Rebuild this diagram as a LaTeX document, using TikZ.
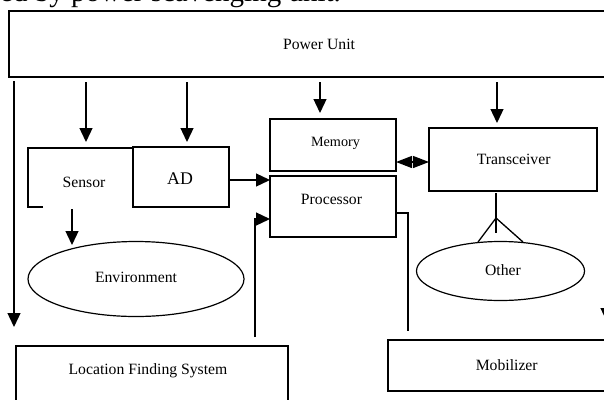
\documentclass[tikz,border=0pt]{standalone}
\usepackage{fontspec}
\setmainfont{Liberation Serif}
\usetikzlibrary{arrows.meta,shapes.geometric}
\begin{document}
\begin{tikzpicture}[x=1pt,y=-1pt,
  box/.style={draw,line width=1.3pt,rectangle,inner sep=0pt,outer sep=0pt},
  oval/.style={draw,line width=1.2pt,ellipse,inner sep=0pt,outer sep=0pt},
  lbl/.style={inner sep=0pt,font=\fontsize{15.7}{18}\selectfont},
  conn/.style={line width=1.3pt},
  arr/.style={conn,-{Triangle[length=14pt,width=13pt]}},
  darr/.style={conn,{Triangle[length=16pt,width=12pt]}-{Triangle[length=16pt,width=12pt]}},
]
\useasboundingbox (0,0) rectangle (604,399);
\clip (0,0) rectangle (604,399);
% clipped caption text from the page above
\node[inner sep=0pt,anchor=base west,font=\fontsize{29}{32}\selectfont] (cap) at (0,1.5) {ed by power scavenging unit.};
% boxes
\node[box,minimum width=611pt,minimum height=66pt] (power) at (314.5,44) {};
\node[lbl] (powertxt) at (319,44) {Power Unit};
\node[lbl] (sensor) at (84,182) {Sensor};
\draw[conn] (43,207) -- (28,207) -- (28,148) -- (133,148);
\node[box,minimum width=96pt,minimum height=60pt] (ad) at (181,177) {};
\node[lbl,font=\fontsize{17.8}{20}\selectfont] (adtxt) at (180,179) {AD};
\node[box,minimum width=126pt,minimum height=52pt] (memory) at (333,145) {};
\node[lbl,font=\fontsize{14.2}{16}\selectfont] (memtxt) at (335.5,143) {Memory};
\node[box,minimum width=126pt,minimum height=61pt] (proc) at (333,206.5) {};
\node[lbl] (proctxt) at (331.5,199) {Processor};
\node[box,minimum width=168pt,minimum height=63pt] (trans) at (513,159.5) {};
\node[lbl] (transtxt) at (513.7,159) {Transceiver};
\node[oval,minimum width=168pt,minimum height=59pt] (other) at (500.5,271) {};
\node[lbl] (othertxt) at (503,270) {Other};
\node[oval,minimum width=216pt,minimum height=75pt] (env) at (136,279) {};
\node[lbl] (envtxt) at (136,277) {Environment};
\node[box,minimum width=272pt,minimum height=74pt] (loc) at (152,383) {};
\node[lbl] (loctxt) at (148,371) {Location Finding System};
\node[box,minimum width=232pt,minimum height=51pt] (mob) at (504,365.5) {};
\node[lbl] (mobtxt) at (506.7,365) {Mobilizer};
% power arrows
\coordinate (pa) at (14,81);   \coordinate (pae) at (14,327);
\coordinate (pb) at (86,82);   \coordinate (pbe) at (86,142);
\coordinate (pc) at (187,82);  \coordinate (pce) at (187,142);
\coordinate (pd) at (320,82);  \coordinate (pde) at (320,113);
\coordinate (pe) at (497,82);  \coordinate (pee) at (497,123);
\coordinate (pf) at (607,82);  \coordinate (pfe) at (607,322);
\draw[arr] (pa) -- (pae);
\draw[arr] (pb) -- (pbe);
\draw[arr] (pc) -- (pce);
\draw[arr] (pd) -- (pde);
\draw[arr] (pe) -- (pee);
\draw[arr] (pf) -- (pfe);
% AD -> processor
\draw[arr] (ad.east |- 0,180) -- (proc.west |- 0,180);
% location line into processor
\coordinate (lp) at (255,337);
\draw[arr] (lp) |- (proc.west |- 0,219);
% processor to mobilizer line
\coordinate (pm) at (408,331);
\draw[conn] (proc.east |- 0,213) -| (pm);
% memory <-> transceiver
\draw[darr] (memory.east |- 0,162) -- (trans.west |- 0,162);
% sensor -> environment
\coordinate (se) at (72,209); \coordinate (see) at (72,245);
\draw[arr] (se) -- (see);
% transceiver -> other (antenna fork)
\coordinate (tb) at (496,193); \coordinate (tbe) at (496,233);
\coordinate (fk) at (496,218);
\coordinate (fl) at (478,242); \coordinate (fr) at (523,242);
\draw[conn] (tb) -- (tbe);
\draw[conn] (fl) -- (fk) -- (fr);
\end{tikzpicture}
\end{document}
